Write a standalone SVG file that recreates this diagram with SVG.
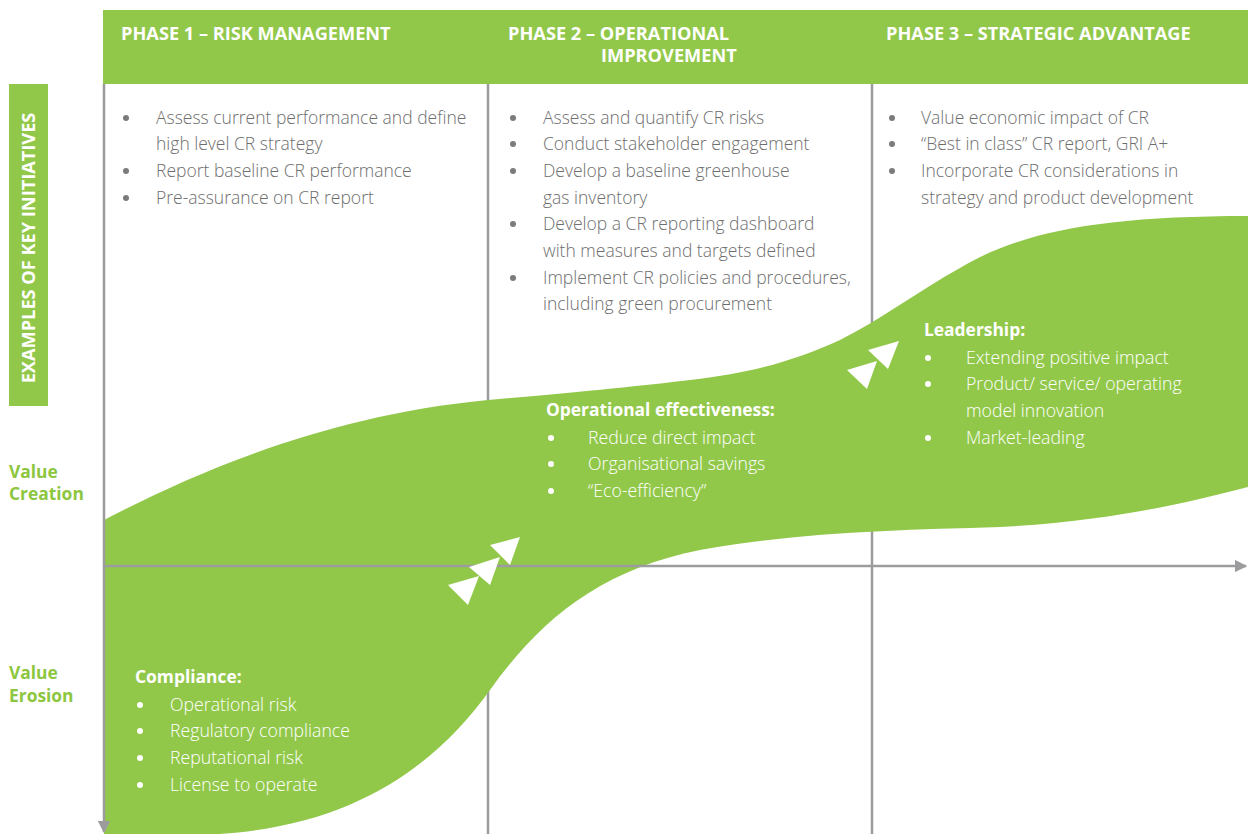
<svg xmlns="http://www.w3.org/2000/svg" width="1248" height="834" viewBox="0 0 1248 834">
  <style>
    .hdr { font-family: "Open Sans", "Liberation Sans", sans-serif; font-weight: 700; font-size: 18.2px; fill: #ffffff; }
    .body { font-family: "Open Sans", "Liberation Sans", sans-serif; font-weight: 300; font-size: 17.5px; fill: #6e6e6e; }
    .wbody { font-family: "Open Sans", "Liberation Sans", sans-serif; font-weight: 300; font-size: 17.7px; fill: #ffffff; }
    .wbold { font-family: "Open Sans", "Liberation Sans", sans-serif; font-weight: 700; font-size: 17.4px; fill: #ffffff; }
    .lbl { font-family: "Open Sans", "Liberation Sans", sans-serif; font-weight: 700; font-size: 17.4px; fill: #8dc63f; }
    .grid { stroke: #9c9c9f; stroke-width: 2.5; fill: none; }
    .gdot { fill: #7b7b7b; }
    .wdot { fill: #ffffff; }
    .chev { fill: #ffffff; }
  </style>
  <defs>
    <marker id="axisHead" viewBox="0 0 10 10" refX="9" refY="5" markerWidth="5" markerHeight="5" orient="auto" markerUnits="strokeWidth">
      <path d="M0,0 L10,5 L0,10 Z" fill="#9c9c9f"/>
    </marker>
  </defs>

  <rect width="1248" height="834" fill="#ffffff"/>

  <!-- phase header band -->
  <g id="header">
    <rect x="103" y="10" width="1145" height="74" fill="#92c84a"/>
    <text class="hdr" x="121" y="40">PHASE 1 – RISK MANAGEMENT</text>
    <text class="hdr" x="508" y="40">PHASE 2 – OPERATIONAL</text>
    <text class="hdr" x="601" y="62">IMPROVEMENT</text>
    <text class="hdr" x="886" y="40">PHASE 3 – STRATEGIC ADVANTAGE</text>
  </g>

  <!-- side label -->
  <g id="side-label">
    <rect x="9" y="84" width="39" height="322" fill="#92c84a"/>
    <text class="hdr" transform="translate(35,248) rotate(-90)" text-anchor="middle">EXAMPLES OF KEY INITIATIVES</text>
  </g>

  <!-- column dividers (behind the curve) -->
  <g id="dividers">
    <line class="grid" x1="488" y1="84" x2="488" y2="834"/>
    <line class="grid" x1="872" y1="84" x2="872" y2="834"/>
  </g>

  <!-- value curve band -->
  <g id="value-curve">
    <path fill="#92c84a" d="M104,520 C200,470 330,415 488,400 C580,392 640,386 690,380 C760,372 800,358 840,340 C880,320 920,290 960,268 C1020,232 1100,216 1248,216 L1248,487 C1180,505 1100,522 1000,527 C900,530 800,532 700,550 C600,570 540,620 490,690 C440,760 360,825 220,834 L104,834 Z"/>
  </g>

  <!-- axes -->
  <g id="axes">
    <line class="grid" x1="104" y1="84" x2="104" y2="832" marker-end="url(#axisHead)"/>
    <line class="grid" x1="104" y1="566" x2="1246" y2="566" marker-end="url(#axisHead)"/>
  </g>

  <!-- progress chevrons -->
  <g id="chevrons">
    <polygon class="chev" points="520,537 490,545 510,565"/>
    <polygon class="chev" points="500,557 469,567 490,585"/>
    <polygon class="chev" points="479,576 448,585 468,605"/>
    <polygon class="chev" points="899,341 868,350 888,369"/>
    <polygon class="chev" points="877,361 847,370 867,389"/>
  </g>

  <!-- axis labels -->
  <g id="axis-labels">
    <text class="lbl" x="9" y="478">Value</text>
    <text class="lbl" x="9" y="500">Creation</text>
    <text class="lbl" x="9" y="679">Value</text>
    <text class="lbl" x="9" y="702">Erosion</text>
  </g>

  <!-- phase 1 initiatives -->
  <g id="phase1-initiatives">
    <circle class="gdot" cx="126" cy="118" r="3"/>
    <text class="body" x="156" y="124">Assess current performance and define</text>
    <text class="body" x="156" y="150">high level CR strategy</text>
    <circle class="gdot" cx="126" cy="171" r="3"/>
    <text class="body" x="156" y="177">Report baseline CR performance</text>
    <circle class="gdot" cx="126" cy="198" r="3"/>
    <text class="body" x="156" y="204">Pre-assurance on CR report</text>
  </g>

  <!-- phase 2 initiatives -->
  <g id="phase2-initiatives">
    <circle class="gdot" cx="513" cy="118" r="3"/>
    <text class="body" x="543" y="124">Assess and quantify CR risks</text>
    <circle class="gdot" cx="513" cy="144" r="3"/>
    <text class="body" x="543" y="150">Conduct stakeholder engagement</text>
    <circle class="gdot" cx="513" cy="171" r="3"/>
    <text class="body" x="543" y="177">Develop a baseline greenhouse</text>
    <text class="body" x="543" y="204">gas inventory</text>
    <circle class="gdot" cx="513" cy="224" r="3"/>
    <text class="body" x="543" y="230">Develop a CR reporting dashboard</text>
    <text class="body" x="543" y="257">with measures and targets defined</text>
    <circle class="gdot" cx="513" cy="278" r="3"/>
    <text class="body" x="543" y="284">Implement CR policies and procedures,</text>
    <text class="body" x="543" y="310">including green procurement</text>
  </g>

  <!-- phase 3 initiatives -->
  <g id="phase3-initiatives">
    <circle class="gdot" cx="892" cy="118" r="3"/>
    <text class="body" x="921" y="124">Value economic impact of CR</text>
    <circle class="gdot" cx="892" cy="144" r="3"/>
    <text class="body" x="921" y="150">“Best in class” CR report, GRI A+</text>
    <circle class="gdot" cx="892" cy="171" r="3"/>
    <text class="body" x="921" y="177">Incorporate CR considerations in</text>
    <text class="body" x="921" y="204">strategy and product development</text>
  </g>

  <!-- compliance stage -->
  <g id="compliance">
    <text class="wbold" x="135" y="683">Compliance:</text>
    <circle class="wdot" cx="140" cy="705" r="3"/>
    <text class="wbody" x="170" y="711">Operational risk</text>
    <circle class="wdot" cx="140" cy="731" r="3"/>
    <text class="wbody" x="170" y="737">Regulatory compliance</text>
    <circle class="wdot" cx="140" cy="758" r="3"/>
    <text class="wbody" x="170" y="764">Reputational risk</text>
    <circle class="wdot" cx="140" cy="785" r="3"/>
    <text class="wbody" x="170" y="791">License to operate</text>
  </g>

  <!-- operational effectiveness stage -->
  <g id="operational-effectiveness">
    <text class="wbold" x="546" y="416">Operational effectiveness:</text>
    <circle class="wdot" cx="551" cy="438" r="3"/>
    <text class="wbody" x="588" y="444">Reduce direct impact</text>
    <circle class="wdot" cx="551" cy="464" r="3"/>
    <text class="wbody" x="588" y="470">Organisational savings</text>
    <circle class="wdot" cx="551" cy="491" r="3"/>
    <text class="wbody" x="588" y="497">“Eco-efficiency”</text>
  </g>

  <!-- leadership stage -->
  <g id="leadership">
    <text class="wbold" x="924" y="336">Leadership:</text>
    <circle class="wdot" cx="928" cy="358" r="3"/>
    <text class="wbody" x="966" y="364">Extending positive impact</text>
    <circle class="wdot" cx="928" cy="384" r="3"/>
    <text class="wbody" x="966" y="390">Product/ service/ operating</text>
    <text class="wbody" x="966" y="417">model innovation</text>
    <circle class="wdot" cx="928" cy="438" r="3"/>
    <text class="wbody" x="966" y="444">Market-leading</text>
  </g>
</svg>
